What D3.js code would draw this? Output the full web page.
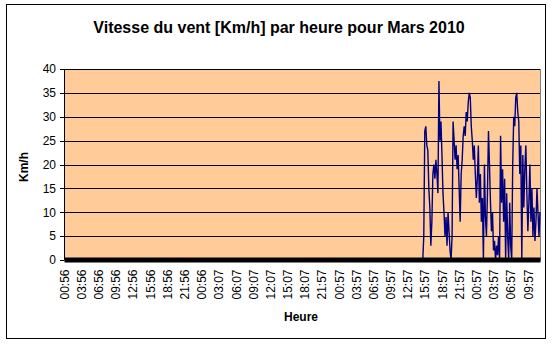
<!DOCTYPE html>
<html>
<head>
<meta charset="utf-8">
<script src="https://cdn.jsdelivr.net/npm/d3@7"></script>
<style>
    body { margin: 0; background: #fff; }
    svg { font-family: Arial, "Liberation Sans", sans-serif; }
    .frame { fill: #fff; stroke: #000; stroke-width: 1; }
    .plot-bg { fill: #ffcc99; stroke: #808080; stroke-width: 1; }
    .grid line { stroke: #000; stroke-width: 1; shape-rendering: crispEdges; }
    .axis text { font-size: 12px; fill: #000; }
    .y.axis path { stroke: #000; shape-rendering: crispEdges; }
    .y.axis line { stroke: #000; shape-rendering: crispEdges; }
    .x.axis path { stroke: #000; stroke-width: 5; }
    .line { fill: none; stroke: #000080; stroke-width: 1.4; }
    .title { font-size: 16px; font-weight: bold; }
    .axis-title { font-size: 12px; font-weight: bold; }
</style>
</head>
<body>
<svg id="chart" width="555" height="344"></svg>
<script>
// tick labels on the category axis (one every labelStep readings)
const timeLabels = ["00:56", "03:56", "06:56", "09:56", "12:56", "15:56", "18:56", "21:56",
    "00:56", "03:07", "06:07", "09:07", "12:07", "15:07", "18:07", "21:57",
    "00:57", "03:57", "06:57", "09:57", "12:57", "15:57", "18:57", "21:57",
    "00:57", "03:57", "06:57", "09:57"];
const yTicks = [0, 5, 10, 15, 20, 25, 30, 35, 40];

const sampleCount = 472;   // readings on the axis
const labelStep = 17;
const firstReading = 355;  // before this index the station logged 0

// wind speed in km/h from firstReading to the end
const windSpeed = [
    0, 5, 27, 28, 24, 23, 15, 11, 3, 8, 18, 20, 17, 21, 18, 14, 37.5, 25, 29, 22,
    14, 10, 5, 9, 3, 10, 6, 2, 0, 5, 29, 25, 21, 24, 19, 22, 15, 8, 18, 21,
    26, 28, 26, 31, 29, 33, 35, 34, 28, 25, 21, 24, 18, 13, 17, 24, 12, 18, 8, 13,
    0, 20, 9, 5, 14, 27, 20, 12, 6, 10, 2, 4, 0, 3, 1, 5, 0, 26, 12, 19,
    8, 17, 0, 14, 5, 0, 12, 3, 0, 20, 30, 28, 34, 35, 31, 29, 18, 24, 0, 22,
    11, 19, 24, 14, 6, 12, 20, 8, 15, 5, 11, 4, 8, 15, 10, 5, 10
];

const margin = {top: 69, right: 15, bottom: 83, left: 64};
const width = 555 - margin.left - margin.right;
const height = 344 - margin.top - margin.bottom - 1;

let svg = d3.select("#chart");

svg.append("rect").attr("class", "frame")
    .attr("x", 6.5).attr("y", 4.5).attr("width", 539).attr("height", 334);

svg.append("text").attr("class", "title")
    .attr("x", 279).attr("y", 33).attr("text-anchor", "middle")
    .text("Vitesse du vent [Km/h] par heure pour Mars 2010");

let chart = svg.append("g")
    .attr("transform", "translate(" + margin.left + "," + margin.top + ")");

let xScale = d3.scaleLinear().domain([0, sampleCount - 1]).range([0, width]);
let yScale = d3.scaleLinear().domain([0, 40]).range([height, 0]);

chart.append("rect").attr("class", "plot-bg")
    .attr("x", 0.5).attr("y", 0.5).attr("width", width).attr("height", height);

chart.append("g").attr("class", "grid")
    .selectAll("line").data(yTicks.filter(d => d > 0)).enter()
    .append("line")
        .attr("x1", 0).attr("x2", width)
        .attr("y1", d => Math.round(yScale(d)) + 0.5)
        .attr("y2", d => Math.round(yScale(d)) + 0.5);

// readings
let data = windSpeed.map((v, i) => ({i: firstReading + i, v: v}));
let line = d3.line()
    .x(d => xScale(d.i))
    .y(d => yScale(d.v));
chart.append("path").attr("class", "line").datum(data).attr("d", line);

// y axis
chart.append("g").attr("class", "y axis")
    .call(d3.axisLeft(yScale).tickValues(yTicks).tickSize(4).tickSizeOuter(0).tickPadding(4))
    .call(g => g.select(".domain").remove())
    .call(g => g.append("line").attr("x1", 0.5).attr("x2", 0.5).attr("y1", 0).attr("y2", height).attr("stroke", "#000"));

// x axis, the thick bar is the zero line of the empty period
let labelIdx = timeLabels.map((d, i) => i * labelStep);
let xAxis = chart.append("g").attr("class", "x axis")
    .attr("transform", "translate(0," + (height - 0.5) + ")")
    .call(d3.axisBottom(xScale).tickValues(labelIdx)
        .tickFormat((d, i) => timeLabels[i]).tickSize(0).tickSizeOuter(0));
xAxis.selectAll("text")
    .attr("transform", "rotate(-90)")
    .attr("text-anchor", "end")
    .attr("x", -10).attr("y", 0).attr("dy", "0.35em");

chart.append("text").attr("class", "axis-title")
    .attr("transform", "translate(" + (24 - margin.left + 4) + "," + (167 - margin.top) + ") rotate(-90)")
    .attr("text-anchor", "middle")
    .text("Km/h");

svg.append("text").attr("class", "axis-title")
    .attr("x", 301).attr("y", 321).attr("text-anchor", "middle")
    .text("Heure");
</script>
</body>
</html>
